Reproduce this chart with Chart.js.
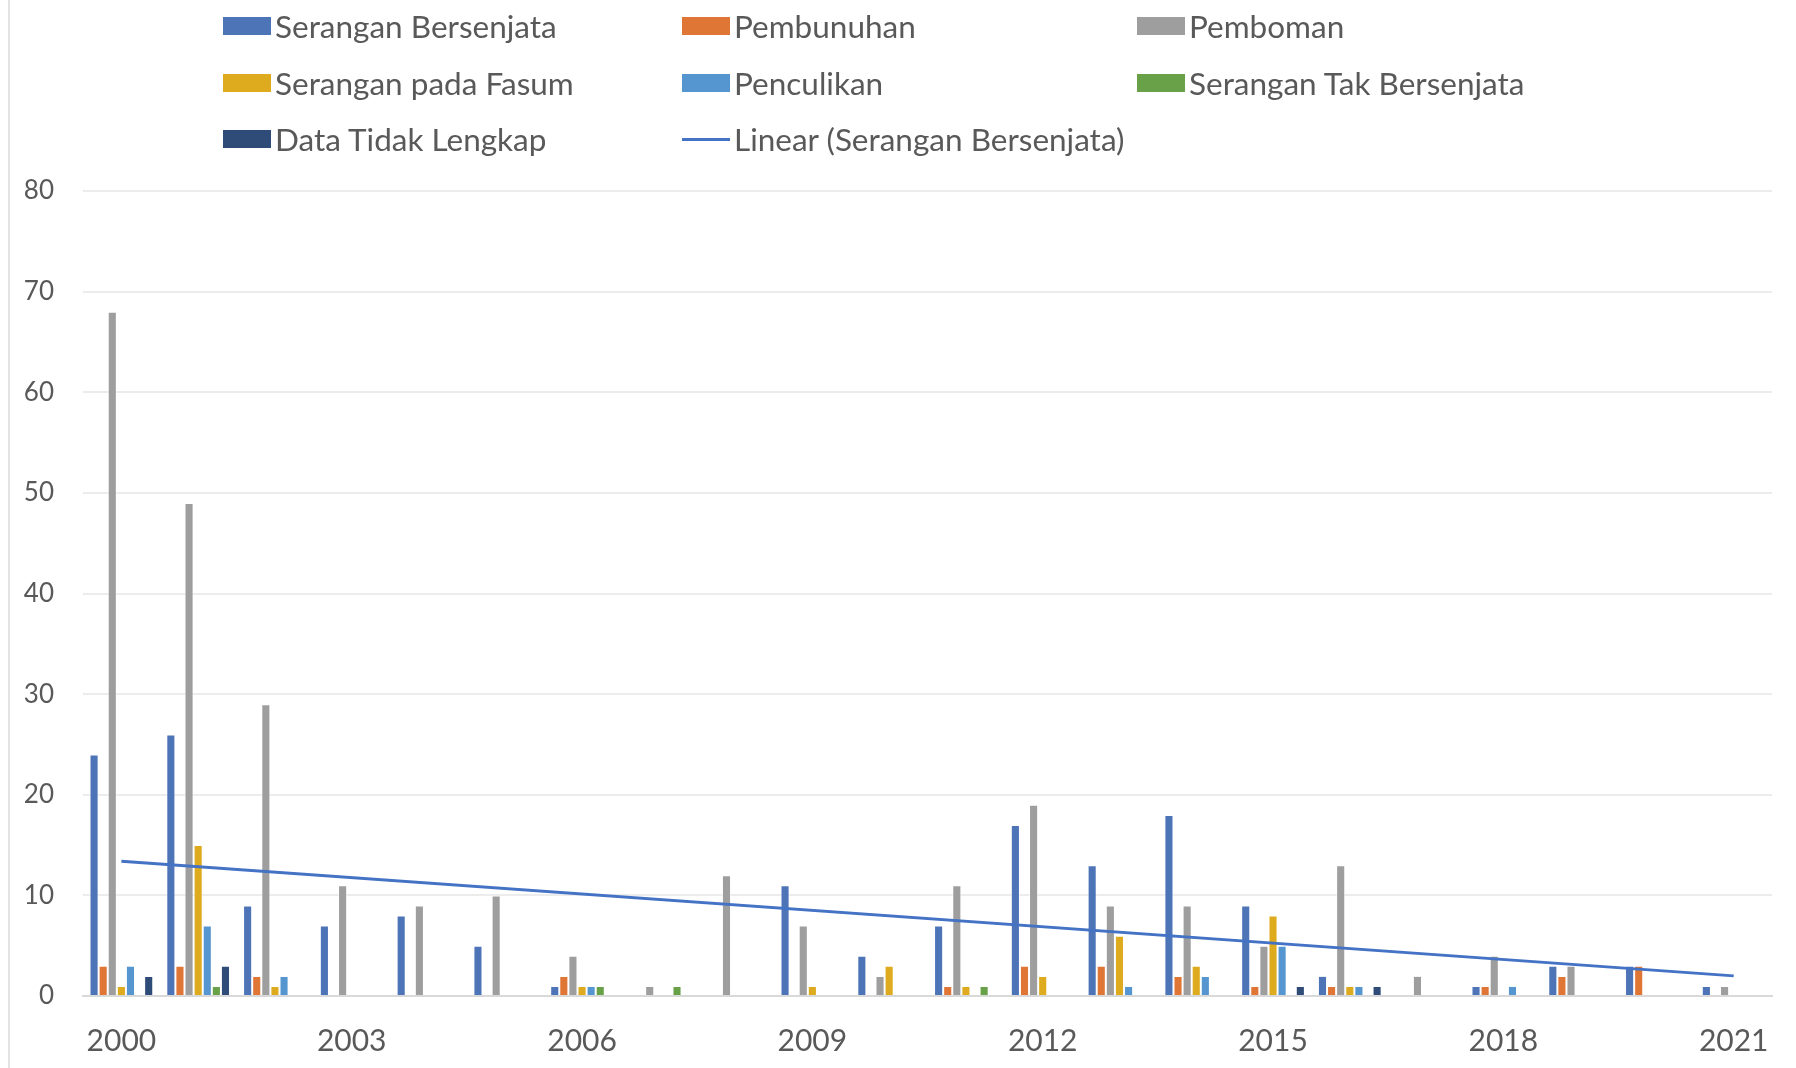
<!DOCTYPE html>
<html>
<head>
<meta charset="utf-8">
<script src="https://cdn.jsdelivr.net/npm/chart.js@4.4.1/dist/chart.umd.min.js"></script>
<style>
    html, body {
        margin: 0;
        padding: 0;
        background: #ffffff;
    }
    body {
        width: 1796px;
        height: 1068px;
        position: relative;
        overflow: hidden;
        font-family: Lato, "Open Sans", sans-serif;
    }
    .frame-line {
        position: absolute;
        left: 8px;
        top: 0;
        width: 2px;
        height: 1068px;
        background: #e3e3e3;
    }
    #chartWrap {
        position: absolute;
        left: 0;
        top: 0;
        width: 1796px;
        height: 1068px;
    }
    #legend {
        position: absolute;
        left: 223px;
        top: 8px;
        display: grid;
        grid-template-columns: 459px 455px 420px;
        grid-auto-rows: 56.5px;
        font-size: 31.5px;
        color: #595959;
    }
    .legend-item {
        display: flex;
        align-items: center;
        height: 36px;
        white-space: nowrap;
    }
    .legend-box {
        width: 48px;
        height: 18px;
        margin-right: 4px;
        flex: none;
    }
    .legend-line {
        width: 48px;
        height: 3px;
        margin-right: 4px;
        flex: none;
    }
</style>
</head>
<body>
<div class="frame-line"></div>
<div id="chartWrap"><canvas id="chart" width="1796" height="1068"></canvas></div>
<div id="legend"></div>

<script>
// Categories (years)
const years = ['2000', '2001', '2002', '2003', '2004', '2005', '2006', '2007', '2008', '2009', '2010',
    '2011', '2012', '2013', '2014', '2015', '2016', '2017', '2018', '2019', '2020', '2021'];

// Series values
const seranganBersenjata = [24, 26, 9, 7, 8, 5, 1, 0, 0, 11, 4, 7, 17, 13, 18, 9, 2, 0, 1, 3, 3, 1];
const pembunuhan = [3, 3, 2, 0, 0, 0, 2, 0, 0, 0, 0, 1, 3, 3, 2, 1, 1, 0, 1, 2, 3, 0];
const pemboman = [68, 49, 29, 11, 9, 10, 4, 1, 12, 7, 2, 11, 19, 9, 9, 5, 13, 2, 4, 3, 0, 1];
const seranganFasum = [1, 15, 1, 0, 0, 0, 1, 0, 0, 1, 3, 1, 2, 6, 3, 8, 1, 0, 0, 0, 0, 0];
const penculikan = [3, 7, 2, 0, 0, 0, 1, 0, 0, 0, 0, 0, 0, 1, 2, 5, 1, 0, 1, 0, 0, 0];
const seranganTakBersenjata = [0, 1, 0, 0, 0, 0, 1, 1, 0, 0, 0, 1, 0, 0, 0, 0, 0, 0, 0, 0, 0, 0];
const dataTidakLengkap = [2, 3, 0, 0, 0, 0, 0, 0, 0, 0, 0, 0, 0, 0, 0, 1, 1, 0, 0, 0, 0, 0];

// Linear trend of Serangan Bersenjata: end points
const trendLine = [13.4, null, null, null, null, null, null, null, null, null, null,
    null, null, null, null, null, null, null, null, null, null, 2.0];

// Y axis ticks
const yTicks = [0, 10, 20, 30, 40, 50, 60, 70, 80];
// X labels shown (every third year)
const xShown = ['2000', '2003', '2006', '2009', '2012', '2015', '2018', '2021'];

const barSeries = [
    { label: 'Serangan Bersenjata', data: seranganBersenjata, color: '#4e74b8' },
    { label: 'Pembunuhan', data: pembunuhan, color: '#df7636' },
    { label: 'Pemboman', data: pemboman, color: '#9e9e9e' },
    { label: 'Serangan pada Fasum', data: seranganFasum, color: '#deab1f' },
    { label: 'Penculikan', data: penculikan, color: '#5696d0' },
    { label: 'Serangan Tak Bersenjata', data: seranganTakBersenjata, color: '#69a148' },
    { label: 'Data Tidak Lengkap', data: dataTidakLengkap, color: '#2f4b77' }
];
const trendLabel = 'Linear (Serangan Bersenjata)';
const trendColor = '#4472c4';

// Build datasets
const datasets = barSeries.map(s => ({
    type: 'bar',
    label: s.label,
    data: s.data,
    backgroundColor: s.color,
    borderColor: 'rgba(255,255,255,0.55)',
    borderWidth: { left: 1, right: 1, top: 1, bottom: 0 },
    categoryPercentage: 0.83,
    barPercentage: 1.0,
    order: 2
}));
datasets.push({
    type: 'line',
    label: trendLabel,
    data: trendLine,
    borderColor: trendColor,
    borderWidth: 3,
    pointRadius: 0,
    spanGaps: true,
    fill: false,
    order: 1
});

new Chart(document.getElementById('chart'), {
    data: {
        labels: years,
        datasets: datasets
    },
    options: {
        responsive: false,
        animation: false,
        layout: {
            padding: { left: 0, right: 23, top: 191, bottom: 0 }
        },
        plugins: {
            legend: { display: false },
            tooltip: { enabled: false }
        },
        scales: {
            x: {
                grid: { display: false, drawTicks: false },
                border: { color: '#d9d9d9', width: 2 },
                ticks: {
                    color: '#595959',
                    font: { family: 'Lato', size: 30 },
                    padding: 27,
                    autoSkip: false,
                    maxRotation: 0,
                    callback: function (value, index) {
                        const y = years[index];
                        return xShown.includes(y) ? y : '';
                    }
                },
                afterFit: function (scale) {
                    scale.height = 1068 - 996;
                }
            },
            y: {
                min: 0,
                max: 80,
                afterBuildTicks: function (scale) {
                    scale.ticks = yTicks.map(v => ({ value: v }));
                },
                grid: { color: '#ececec', lineWidth: 2, drawTicks: false },
                border: { display: false },
                ticks: {
                    color: '#595959',
                    font: { family: 'Lato', size: 26 },
                    padding: 29
                },
                afterFit: function (scale) {
                    scale.width = 83;
                }
            }
        }
    }
});

// HTML legend in three columns
const legendEl = document.getElementById('legend');
const legendItems = barSeries.map(s => ({ label: s.label, color: s.color, line: false }));
legendItems.push({ label: trendLabel, color: trendColor, line: true });
legendEl.innerHTML = legendItems.map(item => `
    <div class="legend-item">
        <span class="${item.line ? 'legend-line' : 'legend-box'}" style="background:${item.color}"></span>
        <span>${item.label}</span>
    </div>
`).join('');
</script>
</body>
</html>
